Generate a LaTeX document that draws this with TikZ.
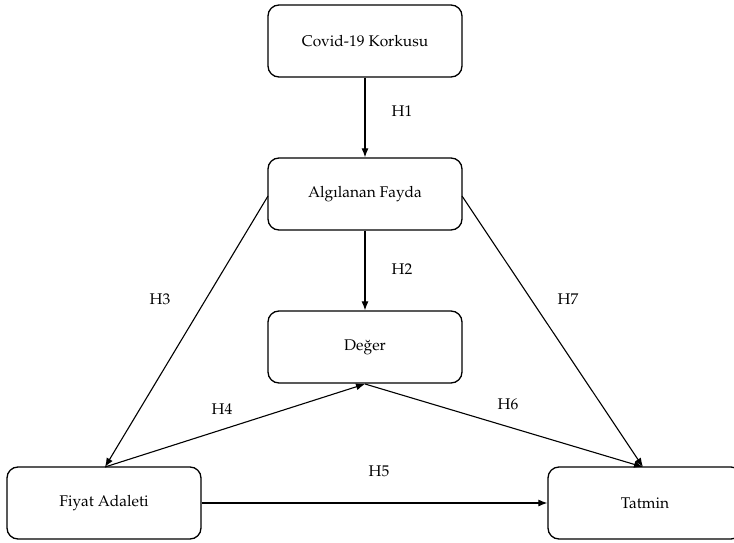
\documentclass[tikz,border=0pt]{standalone}
\usepackage[T1]{fontenc}
\usepackage{mathpazo}
\usetikzlibrary{arrows.meta}
\begin{document}
\begin{tikzpicture}[x=1pt,y=-1pt,
  box/.style={draw, line width=1.3pt, rounded corners=11pt, minimum width=194pt, minimum height=72pt, inner sep=0pt, font=\fontsize{15.5}{18}\selectfont},
  arr/.style={line width=1.1pt, -{Latex[length=9pt,width=7pt]}},
  lab/.style={font=\fontsize{15.5}{18}\selectfont}]
\useasboundingbox (0,0) rectangle (734,543);
\node[box] (cov) at (365,41) {Covid-19 Korkusu};
\node[box] (alg) at (365,194) {Alg\i lanan Fayda};
\node[box] (deg) at (365,347) {De\u{g}er};
\node[box] (fiy) at (104,503) {Fiyat Adaleti};
\node[box] (tat) at (645,503) {Tatmin};
\coordinate (algL) at (268,196);
\coordinate (algR) at (462,196);
\coordinate (fiyT) at (105,467);
\coordinate (tatT) at (643,467);
\coordinate (degB) at (365,384);
\draw[arr] (cov.south) -- (alg.north);
\draw[arr] (alg.south) -- (deg.north);
\draw[arr] (algL) -- (fiyT);
\draw[arr] (algR) -- (tatT);
\draw[arr] (fiyT) -- (degB);
\draw[arr] (degB) -- (tatT);
\draw[arr] (fiy.east) -- (tat.west);
\node[lab] (h1) at (402,111) {H1};
\node[lab] (h2) at (402,269) {H2};
\node[lab] (h3) at (160,299) {H3};
\node[lab] (h7) at (568,299) {H7};
\node[lab] (h4) at (222,409) {H4};
\node[lab] (h6) at (508,404) {H6};
\node[lab] (h5) at (379,471) {H5};
\end{tikzpicture}
\end{document}
